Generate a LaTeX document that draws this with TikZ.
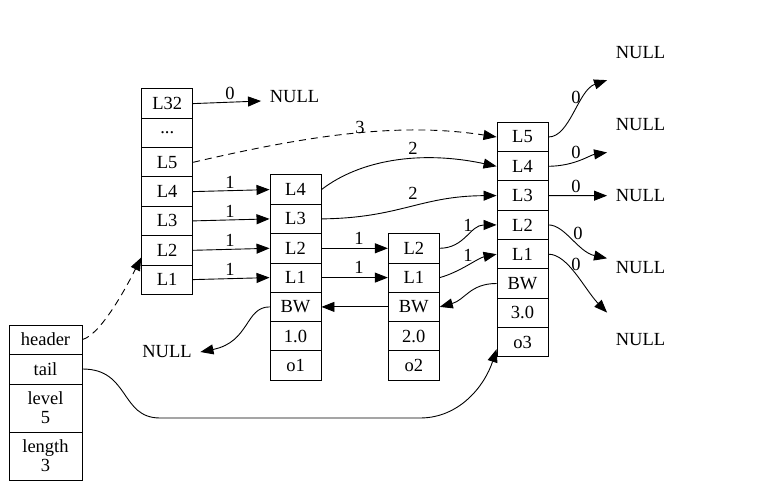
\documentclass[tikz,border=0pt]{standalone}
\usepackage{fontspec}
\setmainfont{Liberation Serif}
\usetikzlibrary{arrows.meta}
\begin{document}
\begin{tikzpicture}[x=1pt,y=-1pt,line width=0.9pt,
  >={Triangle[length=13pt,width=10pt]},
  every node/.style={font=\fontsize{18.5}{19}\selectfont},
  cell/.style={draw,minimum width=51,minimum height=29.3,inner sep=0},
  lcell/.style={draw,minimum width=73,inner sep=0,align=center},
  nul/.style={minimum width=66,minimum height=54,inner sep=0},
  wt/.style={inner sep=0},
  dashline/.style={dash pattern=on 7pt off 5pt}]
\useasboundingbox (0,0) rectangle (757,497);
\node [lcell,minimum height=29](Lh) at (45.5,339.5){header};
\node [lcell,minimum height=30](Lt) at (45.5,369){tail};
\node [lcell,minimum height=48](Ll) at (45.5,408){level\\5};
\node [lcell,minimum height=48](Ln) at (45.5,456){length\\3};
\node [cell](H32) at (167.2,103.6){L32};
\node [cell](Hd) at (167.2,133){...};
\node [cell](H5) at (167.2,162.3){L5};
\node [cell](H4) at (167.2,191.6){L4};
\node [cell](H3) at (167.2,220.9){L3};
\node [cell](H2) at (167.2,250.3){L2};
\node [cell](H1) at (167.2,279.6){L1};
\node [cell](A4) at (295.5,189.6){L4};
\node [cell](A3) at (295.5,218.9){L3};
\node [cell](A2) at (295.5,248.3){L2};
\node [cell](A1) at (295.5,277.6){L1};
\node [cell](ABW) at (295.5,306.9){BW};
\node [cell](As) at (295.5,336.2){1.0};
\node [cell](Ao) at (295.5,365.5){o1};
\node [cell](B2) at (413.8,248.3){L2};
\node [cell](B1) at (413.8,277.6){L1};
\node [cell](BBW) at (413.8,306.9){BW};
\node [cell](Bs) at (413.8,336.2){2.0};
\node [cell](Bo) at (413.8,365.5){o2};
\node [cell](C5) at (522.5,137){L5};
\node [cell](C4) at (522.5,166.3){L4};
\node [cell](C3) at (522.5,195.6){L3};
\node [cell](C2) at (522.5,224.9){L2};
\node [cell](C1) at (522.5,254.2){L1};
\node [cell](CBW) at (522.5,283.5){BW};
\node [cell](Cs) at (522.5,312.8){3.0};
\node [cell](Co) at (522.5,342.1){o3};
\node [nul](NullT) at (294.5,97){NULL};
\node [nul](NullL) at (167,352){NULL};
\node [nul](Null1) at (640.5,52.7){NULL};
\node [nul](Null2) at (640.5,125){NULL};
\node [nul](Null3) at (640.5,195.7){NULL};
\node [nul](Null4) at (640.5,267.3){NULL};
\node [nul](Null5) at (640.5,340){NULL};
\draw [->](H32.east) -- ([yshift=-4pt]NullT.west);
\node [wt](w32) at (230,93){0};
\draw [->,dashline](H5.east) .. controls (310,135) and (400,122) .. (C5.west);
\node [wt](w5) at (360,127){3};
\draw [->](H4.east) -- (A4.west);
\node [wt](w4) at (230,182){1};
\draw [->](H3.east) -- (A3.west);
\node [wt](w3) at (230,211){1};
\draw [->](H2.east) -- (A2.west);
\node [wt](w2) at (230,240){1};
\draw [->](H1.east) -- (A1.west);
\node [wt](w1) at (230,269){1};
\draw [->](A4.east) .. controls (360,160) and (420,150) .. (C4.west);
\node [wt](wa4) at (413,148){2};
\draw [->](A3.east) .. controls (400,218) and (420,196) .. (C3.west);
\node [wt](wa3) at (413,193){2};
\draw [->](A2.east) -- (B2.west);
\node [wt](wa2) at (359,238){1};
\draw [->](A1.east) -- (B1.west);
\node [wt](wa1) at (359,267){1};
\draw [->](B2.east) .. controls (465,248) and (470,225) .. (C2.west);
\node [wt](wb2) at (468,225){1};
\draw [->](B1.east) .. controls (460,272) and (478,258) .. (C1.west);
\node [wt](wb1) at (468,255){1};
\draw [->](CBW.west) .. controls (470,283.5) and (465,300) .. (BBW.east);
\draw [->](BBW.west) -- (ABW.east);
\draw [->](ABW.west) .. controls (245,307) and (250,342) .. (NullL.east);
\draw [->,dashline](Lh.east) .. controls (100,335) and (125,290) .. ([yshift=7pt]H1.north west);
\draw [->](Lt.east) .. controls (130,369) and (120,418) .. (160,418) -- (420,418) .. controls (460,418) and (485,385) .. ([yshift=8pt]Co.south west);
\draw [->](C5.east) .. controls (570,137) and (578,90) .. (Null1.south west);
\node [wt](wc5) at (576,97){0};
\draw [->](C4.east) .. controls (575,166) and (590,155) .. (Null2.south west);
\node [wt](wc4) at (576,152){0};
\draw [->](C3.east) -- (Null3.west);
\node [wt](wc3) at (576,186){0};
\draw [->](C2.east) .. controls (565,225) and (578,252) .. (Null4.165);
\node [wt](wc2) at (578,233){0};
\draw [->](C1.east) .. controls (568,254) and (585,290) .. (Null5.north west);
\node [wt](wc1) at (576,264){0};
\end{tikzpicture}
\end{document}
